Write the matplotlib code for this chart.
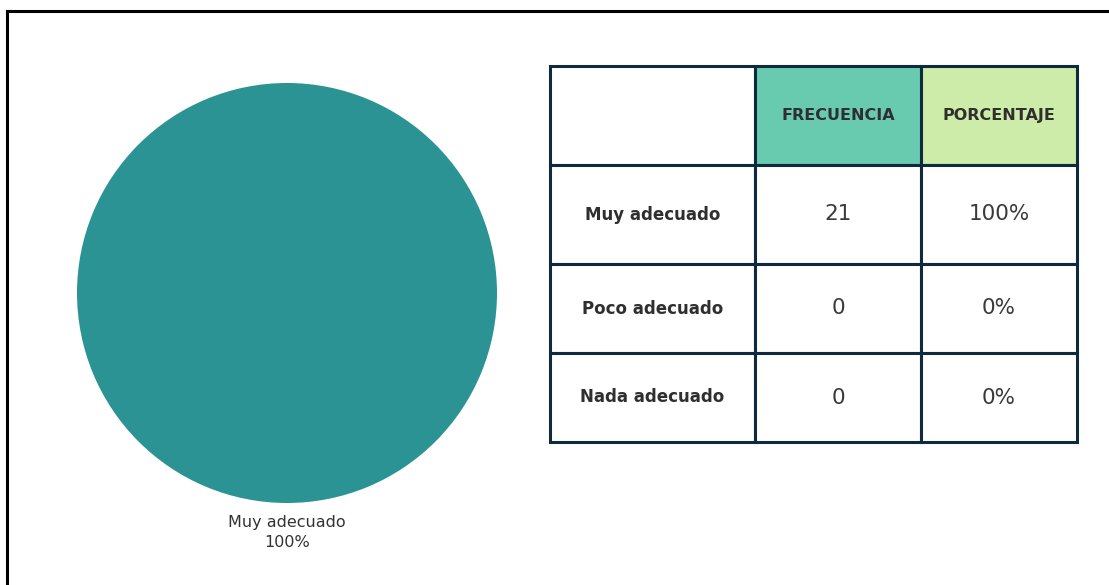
import matplotlib.pyplot as plt
from matplotlib.lines import Line2D

# Data
categorias = ['Muy adecuado', 'Poco adecuado', 'Nada adecuado']
frecuencia = [21, 0, 0]
porcentaje = [100, 0, 0]
encabezados = ['', 'FRECUENCIA', 'PORCENTAJE']

pie_color = '#2b9393'
header_colors = ['#ffffff', '#68cbb0', '#cdeba9']
edge_color = '#0e2a3c'

W, H = 1109, 585
fig = plt.figure(figsize=(W / 100, H / 100), dpi=100)
fig.patch.set_facecolor('white')

# Frame lines (top and left)
fig.add_artist(Line2D([7 / W, 1], [1 - 11 / H, 1 - 11 / H], color='black', lw=2.2))
fig.add_artist(Line2D([7 / W, 7 / W], [0, 1 - 11 / H], color='black', lw=2.2))

# Pie chart: center (287, 293) px, radius 210 px; pie axes spans +-1.25 radius
r = 210
cx, cy = 287, 293
side = 2.5 * r
ax_pie = fig.add_axes([(cx - side / 2) / W, (H - cy - side / 2) / H, side / W, side / H])
vals = [v for v in frecuencia if v > 0]
labs = [f'{c}\n{p}%' for c, f, p in zip(categorias, frecuencia, porcentaje) if f > 0]
ax_pie.pie(vals, colors=[pie_color], startangle=90, counterclock=False,
           wedgeprops=dict(linewidth=0))
ax_pie.text(0, -1.14, labs[0], ha='center', va='center', fontsize=11.5,
            color='#333333', linespacing=1.45)
ax_pie.set_aspect('equal')

# Table
left, right, top, bottom = 550, 1077, 66, 442
ax_tab = fig.add_axes([left / W, (H - bottom) / H, (right - left) / W, (bottom - top) / H])
ax_tab.axis('off')

cell_text = [encabezados] + [[c, str(f), f'{p}%'] for c, f, p in zip(categorias, frecuencia, porcentaje)]
tab = ax_tab.table(cellText=cell_text, bbox=[0, 0, 1, 1], cellLoc='center')
tab.auto_set_font_size(False)

col_w = [205, 166, 156]
row_h = [99, 99, 89, 89]
for (i, j), cell in tab.get_celld().items():
    cell.set_width(col_w[j])
    cell.set_height(row_h[i])
    cell.set_edgecolor(edge_color)
    cell.set_linewidth(2.2)
    txt = cell.get_text()
    txt.set_color('#2f2f2f')
    if i == 0:
        cell.set_facecolor(header_colors[j])
        txt.set_fontsize(11.5)
        txt.set_fontweight('bold')
    elif j == 0:
        txt.set_fontsize(12)
        txt.set_fontweight('bold')
    else:
        txt.set_fontsize(15.5)
        txt.set_color('#3a3a3a')

fig.savefig('out.png', dpi=100)
